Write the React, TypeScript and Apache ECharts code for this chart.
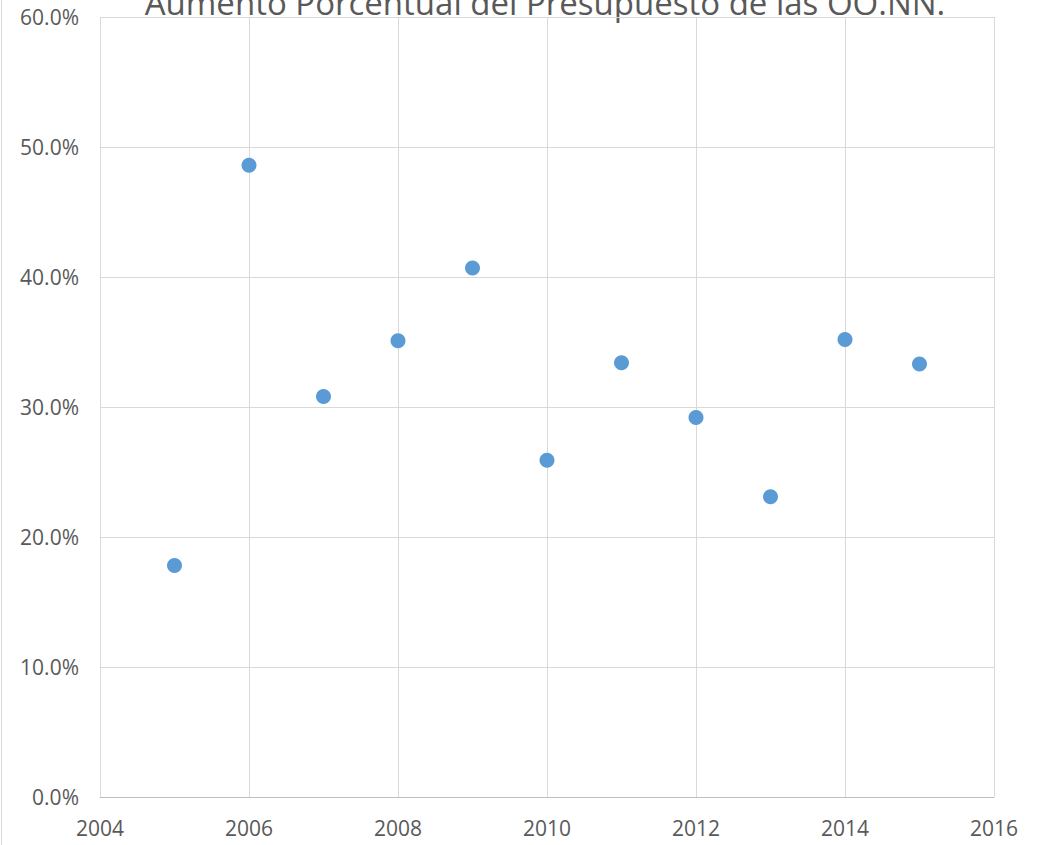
import React, { useEffect, useRef } from "react";
import * as echarts from "echarts";

const years = [2005, 2006, 2007, 2008, 2009, 2010, 2011, 2012, 2013, 2014, 2015];
const increases = [0.178, 0.486, 0.308, 0.351, 0.407, 0.259, 0.334, 0.292, 0.231, 0.352, 0.333];
const titleText = "Aumento Porcentual del Presupuesto de las OO.NN.";

export default function App() {
  const ref = useRef<HTMLDivElement>(null);
  useEffect(() => {
    if (!ref.current) return;
    const chart = echarts.init(ref.current, null, { renderer: "svg" });
    const font = "'Open Sans', 'Noto Sans', sans-serif";
    chart.setOption({
      animation: false,
      backgroundColor: "#ffffff",
      grid: { left: 100, right: 43, top: 17, bottom: 48 },
      xAxis: {
        type: "value",
        min: 2004,
        max: 2016,
        interval: 2,
        axisLine: { show: true, lineStyle: { color: "#BFBFBF", width: 1 } },
        axisTick: { show: false },
        splitLine: { show: true, lineStyle: { color: "#D9D9D9", width: 1 } },
        axisLabel: {
          color: "#595959",
          fontSize: 21,
          fontFamily: font,
          margin: 20,
          formatter: (v: number) => String(v),
        },
      },
      yAxis: {
        type: "value",
        min: 0,
        max: 0.6,
        interval: 0.1,
        axisLine: { show: false },
        axisTick: { show: false },
        splitLine: { show: true, lineStyle: { color: "#D9D9D9", width: 1 } },
        axisLabel: {
          color: "#595959",
          fontSize: 21,
          fontFamily: font,
          margin: 21,
          formatter: (v: number) => (v * 100).toFixed(1) + "%",
        },
      },
      series: [
        {
          type: "scatter",
          data: years.map((y, i) => [y, increases[i]]),
          symbol: "circle",
          symbolSize: 15,
          itemStyle: { color: "#5B9BD5", opacity: 1 },
        },
      ],
      graphic: [
        {
          type: "text",
          x: 545,
          y: 2,
          style: {
            text: titleText,
            fill: "#595959",
            font: "33px " + font,
            textAlign: "center",
            textVerticalAlign: "middle",
          },
        },
        {
          type: "line",
          shape: { x1: 1.5, y1: 0, x2: 1.5, y2: 845 },
          style: { stroke: "#D9D9D9", lineWidth: 1 },
        },
      ],
    });
    return () => chart.dispose();
  }, []);
  return (
    <div
      ref={ref}
      style={{ position: "fixed", left: 0, top: 0, width: 1037, height: 845 }}
    />
  );
}
